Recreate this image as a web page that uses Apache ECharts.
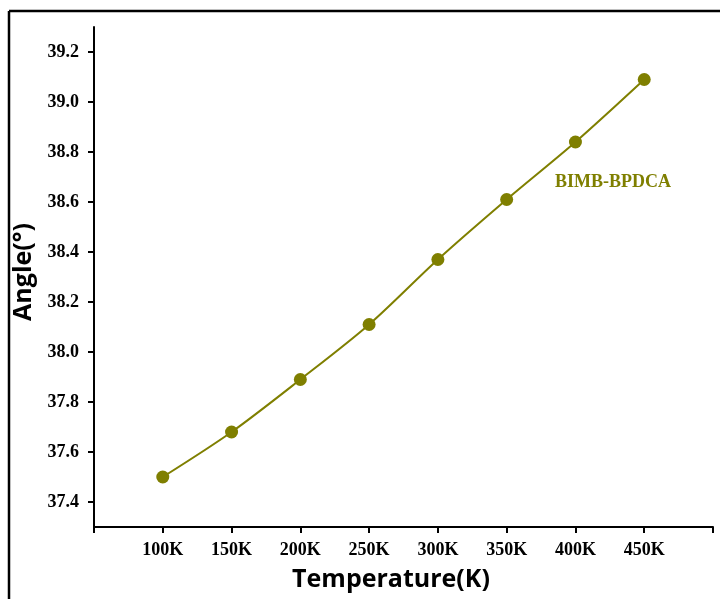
<!DOCTYPE html>
<html>
<head>
<meta charset="utf-8">
<script src="https://cdn.jsdelivr.net/npm/echarts@6/dist/echarts.min.js"></script>
<style>
html,body{margin:0;padding:0;background:#fff;}
#chart{width:720px;height:599px;}
</style>
</head>
<body>
<div id="chart"></div>
<script>
var temperatures = [100, 150, 200, 250, 300, 350, 400, 450];
var angles = [37.50, 37.68, 37.89, 38.11, 38.37, 38.61, 38.84, 39.09];
var yTicks = [37.4, 37.6, 37.8, 38.0, 38.2, 38.4, 38.6, 38.8, 39.0, 39.2];
var seriesName = 'BIMB-BPDCA';
var xTitle = 'Temperature(K)';
var yTitle = 'Angle(°)';

var olive = '#7f7f00';
var chart = echarts.init(document.getElementById('chart'), null, {renderer: 'canvas'});
chart.setOption({
  animation: false,
  backgroundColor: '#fff',
  grid: {left: 94, right: 7, top: 27, bottom: 72, containLabel: false},
  graphic: [
    {type: 'line', shape: {x1: 9, y1: 11, x2: 720, y2: 11}, style: {stroke: '#000', lineWidth: 2.5}},
    {type: 'line', shape: {x1: 9, y1: 11, x2: 9, y2: 599}, style: {stroke: '#000', lineWidth: 2.5}},
    {type: 'text', left: 555, top: 173, style: {text: seriesName, fill: olive, font: 'bold 18px "Liberation Serif"'}}
  ],
  xAxis: {
    type: 'value', min: 50, max: 500, interval: 50,
    name: xTitle, nameLocation: 'middle', nameGap: 40,
    nameTextStyle: {fontFamily: 'Open Sans', fontWeight: 'bold', fontSize: 25, color: '#000', padding: [0, 25, 0, 0]},
    axisLine: {lineStyle: {color: '#000', width: 2}},
    axisTick: {show: true, length: 6, lineStyle: {color: '#000', width: 2}},
    axisLabel: {
      margin: 14, color: '#000', fontFamily: 'Liberation Serif', fontWeight: 'bold', fontSize: 18,
      formatter: function (v) { return (v < 100 || v > 450) ? '' : v + 'K'; }
    },
    splitLine: {show: false}
  },
  yAxis: {
    type: 'value', min: 37.3, max: 39.3,
    name: yTitle, nameLocation: 'middle', nameGap: 48, nameRotate: 90,
    nameTextStyle: {fontFamily: 'Open Sans', fontWeight: 'bold', fontSize: 25, color: '#000', padding: [0, 0, 0, 10]},
    axisLine: {show: true, lineStyle: {color: '#000', width: 2}},
    axisTick: {show: true, length: 6, customValues: yTicks, lineStyle: {color: '#000', width: 2}},
    axisLabel: {
      margin: 15, color: '#000', fontFamily: 'Liberation Serif', fontWeight: 'bold', fontSize: 18,
      customValues: yTicks,
      formatter: function (v) { return v.toFixed(1); }
    },
    splitLine: {show: false}
  },
  series: [{
    name: seriesName, type: 'line', smooth: 0.3,
    data: temperatures.map(function (t, i) { return [t, angles[i]]; }),
    symbol: 'circle', symbolSize: 13,
    itemStyle: {color: olive},
    lineStyle: {color: olive, width: 2}
  }]
});
</script>
</body>
</html>
